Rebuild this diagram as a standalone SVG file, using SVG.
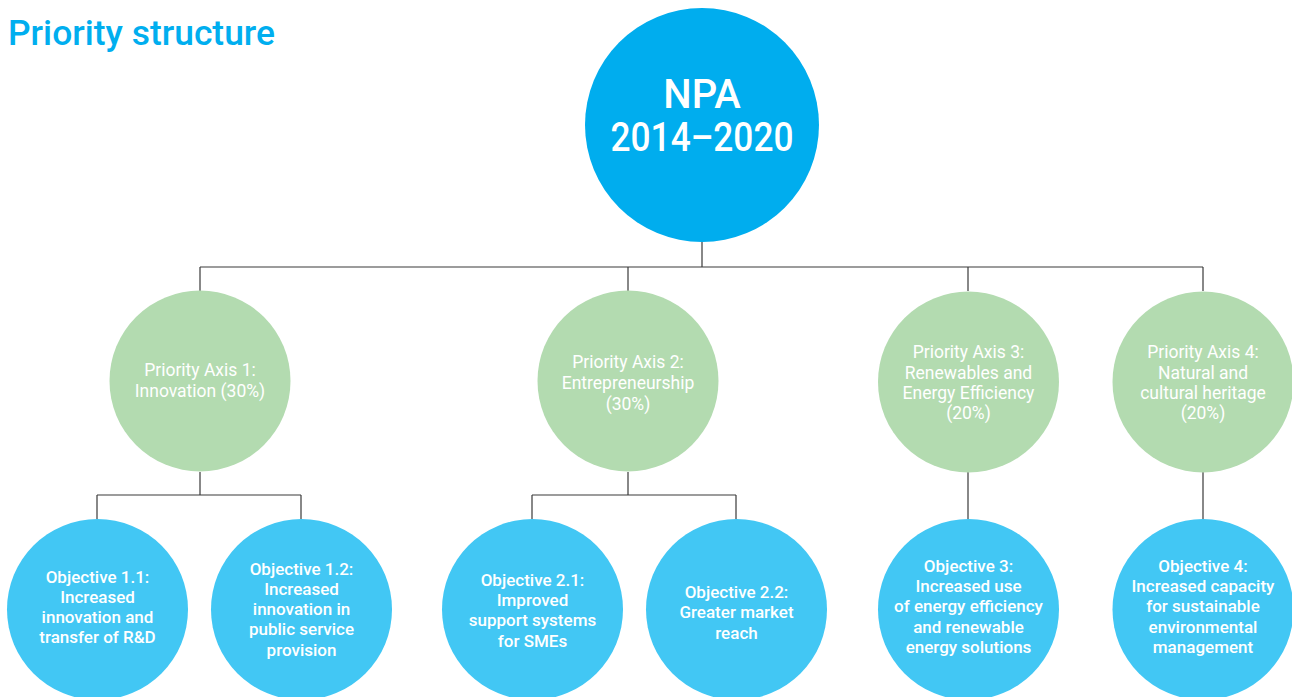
<svg xmlns="http://www.w3.org/2000/svg" width="1292" height="697" viewBox="0 0 1292 697">
<style>
.title{font-family:Roboto,"Liberation Sans",sans-serif;font-weight:500;font-size:35px;fill:#00AEEF}
.main{fill:#00ADEE}
.axis{fill:#B3DBB0}
.obj{fill:#42C7F4}
.t{font-family:Roboto,"Liberation Sans",sans-serif;fill:#fff;text-anchor:middle}
.big{font-size:40px;font-weight:500}
.at{font-size:17.5px;font-weight:400}
.ot{font-size:17px;font-weight:500}
.conn{fill:none;stroke:#3a3a3a;stroke-width:1.2}
</style>
<rect width="1292" height="697" fill="#fff"/>
<text class="title" x="8" y="45" textLength="267" lengthAdjust="spacingAndGlyphs">Priority structure</text>
<g id="connectors" class="conn">
<path d="M702 242V267M200 267H1203M200 267V291M628 267V291M968 267V291M1203 267V291"/>
<path d="M200 472V495M97 495H301M97 495V519M301 495V519"/>
<path d="M628 472V495M532 495H736M532 495V519M736 495V519"/>
<path d="M968 472V519M1203 472V519"/>
</g>
<g id="npa">
<circle class="main" cx="702" cy="125" r="117"/>
<text class="t big" x="702" y="108">NPA</text>
<text class="t big" x="702" y="151" textLength="183" lengthAdjust="spacingAndGlyphs">2014–2020</text>
</g>
<g id="axis1">
<circle class="axis" cx="200" cy="381" r="90.5"/>
<text class="t at" x="200" y="376">Priority Axis 1:</text>
<text class="t at" x="200" y="397">Innovation (30%)</text>
</g>
<g id="axis2">
<circle class="axis" cx="628" cy="381" r="90.5"/>
<text class="t at" x="628" y="368">Priority Axis 2:</text>
<text class="t at" x="628" y="389">Entrepreneurship</text>
<text class="t at" x="628" y="410">(30%)</text>
</g>
<g id="axis3">
<circle class="axis" cx="968.5" cy="382" r="90.5"/>
<text class="t at" x="968.5" y="358">Priority Axis 3:</text>
<text class="t at" x="968.5" y="379">Renewables and</text>
<text class="t at" x="968.5" y="399">Energy Efficiency</text>
<text class="t at" x="968.5" y="419">(20%)</text>
</g>
<g id="axis4">
<circle class="axis" cx="1203" cy="382" r="90.5"/>
<text class="t at" x="1203" y="358">Priority Axis 4:</text>
<text class="t at" x="1203" y="379">Natural and</text>
<text class="t at" x="1203" y="399">cultural heritage</text>
<text class="t at" x="1203" y="419">(20%)</text>
</g>
<g id="obj11">
<circle class="obj" cx="97.5" cy="609.5" r="90.5"/>
<text class="t ot" x="97.5" y="583">Objective 1.1:</text>
<text class="t ot" x="97.5" y="603">Increased</text>
<text class="t ot" x="97.5" y="623">innovation and</text>
<text class="t ot" x="97.5" y="643">transfer of R&amp;D</text>
</g>
<g id="obj12">
<circle class="obj" cx="301.5" cy="609.5" r="90.5"/>
<text class="t ot" x="301.5" y="575">Objective 1.2:</text>
<text class="t ot" x="301.5" y="595">Increased</text>
<text class="t ot" x="301.5" y="615">innovation in</text>
<text class="t ot" x="301.5" y="635">public service</text>
<text class="t ot" x="301.5" y="656">provision</text>
</g>
<g id="obj21">
<circle class="obj" cx="532.5" cy="609.5" r="90.5"/>
<text class="t ot" x="532.5" y="586">Objective 2.1:</text>
<text class="t ot" x="532.5" y="606">Improved</text>
<text class="t ot" x="532.5" y="626">support systems</text>
<text class="t ot" x="532.5" y="647">for SMEs</text>
</g>
<g id="obj22">
<circle class="obj" cx="736.5" cy="609.5" r="90.5"/>
<text class="t ot" x="736.5" y="598">Objective 2.2:</text>
<text class="t ot" x="736.5" y="618">Greater market</text>
<text class="t ot" x="736.5" y="639">reach</text>
</g>
<g id="obj3">
<circle class="obj" cx="968.5" cy="609.5" r="90.5"/>
<text class="t ot" x="968.5" y="572">Objective 3:</text>
<text class="t ot" x="968.5" y="592">Increased use</text>
<text class="t ot" x="968.5" y="612">of energy efficiency</text>
<text class="t ot" x="968.5" y="633">and renewable</text>
<text class="t ot" x="968.5" y="653">energy solutions</text>
</g>
<g id="obj4">
<circle class="obj" cx="1203" cy="609.5" r="90.5"/>
<text class="t ot" x="1203" y="572">Objective 4:</text>
<text class="t ot" x="1203" y="592">Increased capacity</text>
<text class="t ot" x="1203" y="612">for sustainable</text>
<text class="t ot" x="1203" y="633">environmental</text>
<text class="t ot" x="1203" y="653">management</text>
</g>
</svg>
